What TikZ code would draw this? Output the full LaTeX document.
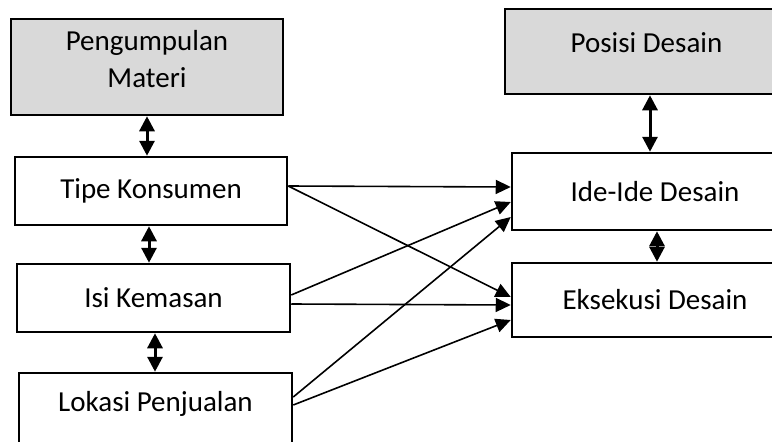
\documentclass[tikz,border=0pt]{standalone}
\usepackage{fontspec}
\setmainfont{Carlito}
\usetikzlibrary{arrows.meta}

\def\boxwidth{272pt}

\begin{document}
\begin{tikzpicture}[x=1pt,y=-1pt,>={Triangle[length=15pt,width=14pt]}]
    \tikzstyle{box}=[draw=black,line width=2.5pt,minimum width=\boxwidth,minimum height=68pt,inner sep=0pt,align=center,font=\fontsize{29}{37}\selectfont]
    \tikzstyle{grey box}=[box,fill=black!15]
    \tikzstyle{link}=[->,line width=1.6pt]
    \tikzstyle{double link}=[{Triangle[length=15pt,width=15pt]}-{Triangle[length=15pt,width=15pt]},line width=3pt]

    \useasboundingbox (0,0) rectangle (772,442);

    % Draw the left column
    \node[grey box,minimum height=96pt,text depth=16pt] (PM) at (147,67) {Pengumpulan\\Materi};
    \node[box] (TK) at (151,191) {Tipe Konsumen};
    \node[box,minimum width=273pt] (IK) at (153.5,298) {Isi Kemasan};
    \node[box,minimum width=273pt,minimum height=74pt,text height=20pt,text depth=18pt] (LP) at (155.5,410) {Lokasi Penjualan};

    % Draw the right column (it runs past the right edge)
    \node[grey box,minimum width=283pt,minimum height=85pt,text height=20pt,text depth=19pt] (PD) at (646.5,51.5) {Posisi Desain};
    \node[box,minimum width=286pt,minimum height=77pt] (ID) at (655,191.5) {Ide-Ide Desain};
    \node[box,minimum width=286pt,minimum height=74pt] (ED) at (655,300) {Eksekusi Desain};

    % Connect the boxes inside each column
    \draw[double link] (PM.south) -- (PM.south |- TK.north);
    \draw[double link] ([xshift=-2pt]TK.south) -- ([xshift=-2pt]TK.south |- IK.north);
    \draw[double link] ([xshift=1.5pt]IK.south) -- ([xshift=1.5pt]IK.south |- LP.north);
    \draw[double link] ([xshift=3.5pt]PD.south) -- ([xshift=3.5pt]PD.south |- ID.north);
    \draw[double link] ([xshift=2pt]ID.south) -- ([xshift=2pt]ID.south |- ED.north);

    % Connect every box on the left with the two design boxes
    \foreach \source/\sy/\dest/\dy in {TK/5/ID/4.5, TK/5/ED/3, IK/3/ID/-10.5, IK/-6/ED/-5, LP/13/ID/-25.5, LP/5/ED/-20}
        \draw[link] ([yshift=\sy pt]\source.east) -- ([yshift=\dy pt]\dest.west);
\end{tikzpicture}
\end{document}
